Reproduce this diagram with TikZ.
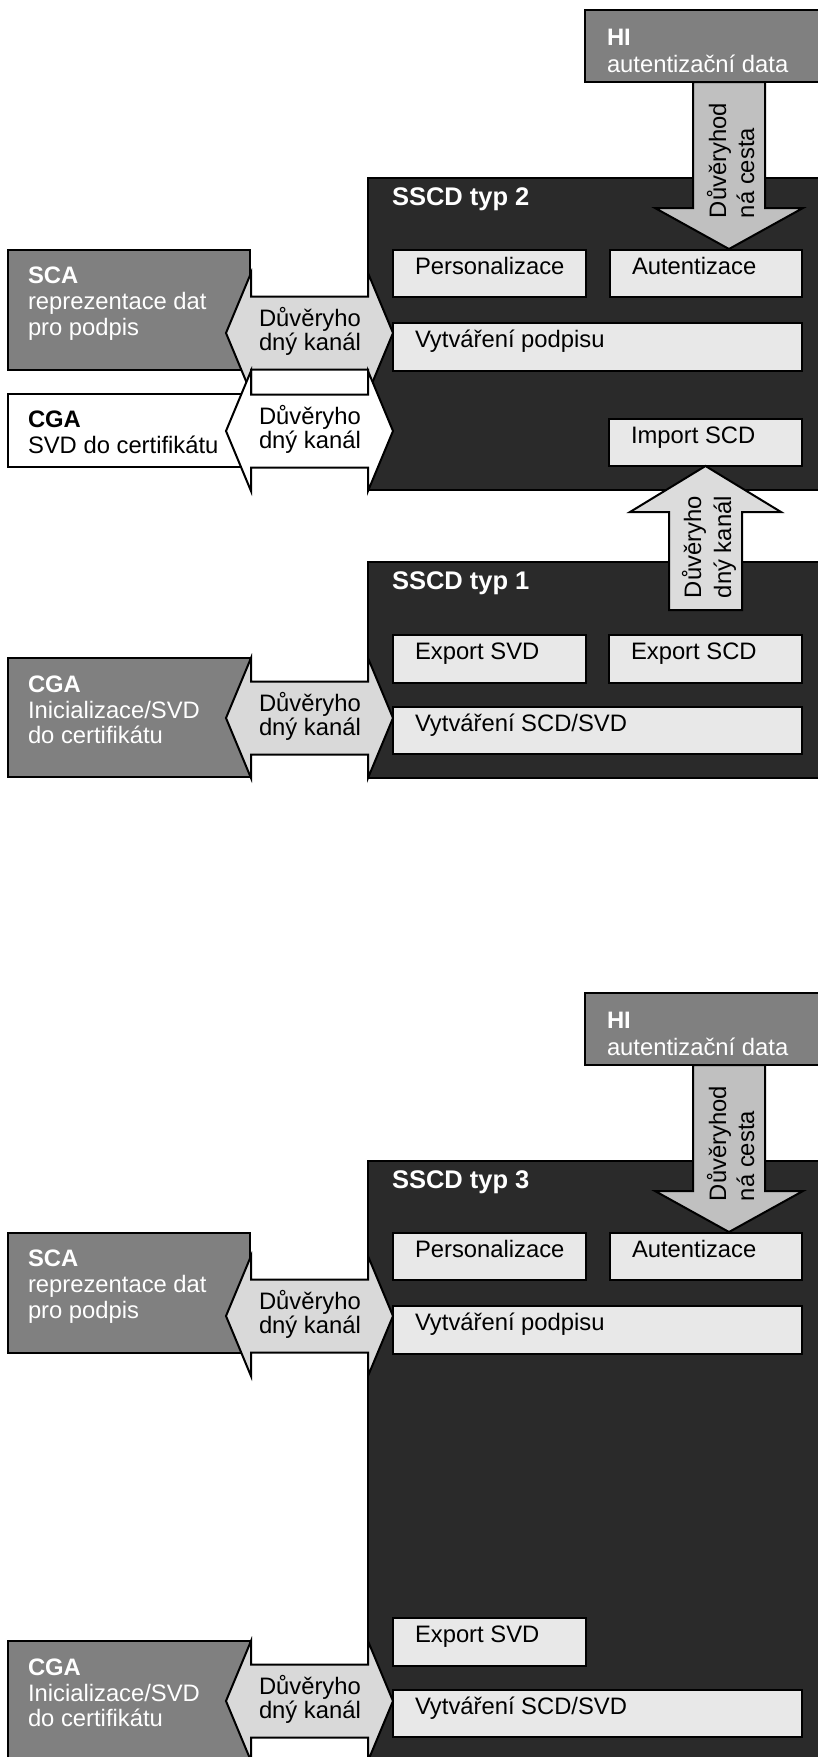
\documentclass[tikz,border=0pt]{standalone}
\usepackage{fontspec}
\setmainfont{Liberation Sans}

\definecolor{sscdfill}{HTML}{2A2A2A}
\definecolor{funcfill}{HTML}{E8E8E8}
\definecolor{srcfill}{HTML}{808080}
\definecolor{chanfill}{HTML}{D9D9D9}
\definecolor{pathfill}{HTML}{C0C0C0}
\definecolor{importfill}{HTML}{DCDCDC}

\newcommand{\bodyfont}{\fontsize{23.8pt}{26pt}\selectfont}
\newcommand{\headfont}{\fontsize{25.5pt}{28pt}\selectfont\bfseries}

\tikzset{
  edge/.style={draw=black, line width=2pt, line join=miter},
  boxbase/.style={edge, anchor=north west, inner sep=0pt, outer sep=0pt},
  sscdbox/.style={boxbase, fill=sscdfill},
  funcnode/.style={boxbase, fill=funcfill},
  srcnode/.style={boxbase, fill=srcfill},
  plainnode/.style={boxbase, fill=white},
  lbl/.style={anchor=base west, inner sep=0pt, outer sep=0pt, font=\bodyfont, text=black},
  wlbl/.style={lbl, text=white},
  wbold/.style={wlbl, font=\bodyfont\bfseries},
  headlbl/.style={lbl, text=white, font=\headfont},
  vlbl/.style={lbl, rotate=90},
  blockarrow/.style={edge},
}

% function box inside an SSCD, text in its upper left corner
\newcommand{\funcbox}[6]{%
  \node[funcnode, minimum width=#4, minimum height=#5] (#1) at (#2,#3) {};
  \node[lbl] (#1-t) at ([shift={(22,24)}]#1.north west) {#6};
}

% trusted channel: double block arrow centred at height #2
\newcommand{\channel}[3]{%
  \draw[blockarrow, fill=#3]
    (226,#2) -- (251,#2-60) -- (251,#2-36.5) -- (368,#2-36.5) -- (368,#2-60)
    -- (393,#2) -- (368,#2+60) -- (368,#2+36.5) -- (251,#2+36.5) -- (251,#2+60) -- cycle;
  \node[lbl] (#1-a) at (259,#2-7) {Důvěryho};
  \node[lbl] (#1-b) at (259,#2+17) {dný kanál};
}

% upper part of a signing SSCD: HI source, functions, SCA and its channel
\newcommand{\signpart}[1]{%
  \node[headlbl] (title) at (392,205) {SSCD typ #1};
  \funcbox{pers}{393}{250}{193}{47}{Personalizace}
  \funcbox{aut}{610}{250}{192}{47}{Autentizace}
  \funcbox{sig}{393}{323}{409}{48}{Vytváření podpisu}
  \node[srcnode, minimum width=242, minimum height=120] (sca) at (8,250) {};
  \node[wbold] (sca-a) at (28,283) {SCA};
  \node[wlbl] (sca-b) at (28,309) {reprezentace dat};
  \node[wlbl] (sca-c) at (28,335) {pro podpis};
  \channel{scach}{333}{chanfill}
  \node[srcnode, minimum width=245, minimum height=72] (hi) at (585,10) {};
  \node[wbold] (hi-a) at (607,45) {HI};
  \node[wlbl] (hi-b) at (607,72) {autentizační data};
  \draw[blockarrow, fill=pathfill]
    (693,82) -- (693,208) -- (655,208) -- (729,249) -- (803,208) -- (765,208) -- (765,82) -- cycle;
  \node[vlbl] (path-a) at (726,218) {Důvěryhod};
  \node[vlbl] (path-b) at (754,218) {ná cesta};
}

% key generation part: functions, CGA and its channel
\newcommand{\keypart}{%
  \funcbox{expsvd}{393}{635}{193}{48}{Export SVD}
  \funcbox{gen}{393}{707}{409}{47}{Vytváření SCD/SVD}
  \node[srcnode, minimum width=242, minimum height=119] (cga) at (8,658) {};
  \node[wbold] (cga-a) at (28,692) {CGA};
  \node[wlbl] (cga-b) at (28,718) {Inicializace/SVD};
  \node[wlbl] (cga-c) at (28,743) {do certifikátu};
  \channel{cgach}{718}{chanfill}
}

\begin{document}
\begin{tikzpicture}[x=1pt, y=-1pt]
\useasboundingbox (0,0) rectangle (818,1757);
\clip (0,0) rectangle (818,1757);

% SSCD type 2
\begin{scope}[name prefix=t2-]
  \node[sscdbox, minimum width=470, minimum height=312] (sscd) at (368,178) {};
  \signpart{2}
  \funcbox{imp}{609}{419}{193}{47}{Import SCD}
  \node[plainnode, minimum width=242, minimum height=73] (cga) at (8,394) {};
  \node[lbl, font=\bodyfont\bfseries] (cga-a) at (28,427) {CGA};
  \node[lbl] (cga-b) at (28,453) {SVD do certifikátu};
  \channel{cgach}{431}{white}
\end{scope}

% SSCD type 1
\begin{scope}[name prefix=t1-]
  \node[sscdbox, minimum width=470, minimum height=216] (sscd) at (368,562) {};
  \node[headlbl] (title) at (392,589) {SSCD typ 1};
  \keypart
  \funcbox{expscd}{609}{635}{193}{48}{Export SCD}
\end{scope}

% export of the SCD from type 1 into type 2
\draw[blockarrow, fill=importfill]
  (669,610) -- (669,512) -- (630,512) -- (705.5,466) -- (781,512) -- (742,512) -- (742,610) -- cycle;
\node[vlbl] (imp-a) at (701,598) {Důvěryho};
\node[vlbl] (imp-b) at (731,598) {dný kanál};

% SSCD type 3
\begin{scope}[name prefix=t3-, yshift=-983pt]
  \node[sscdbox, minimum width=470, minimum height=650] (sscd) at (368,178) {};
  \signpart{3}
\end{scope}
\begin{scope}[name prefix=t3k-, yshift=-983pt]
  \keypart
\end{scope}
\end{tikzpicture}
\end{document}
